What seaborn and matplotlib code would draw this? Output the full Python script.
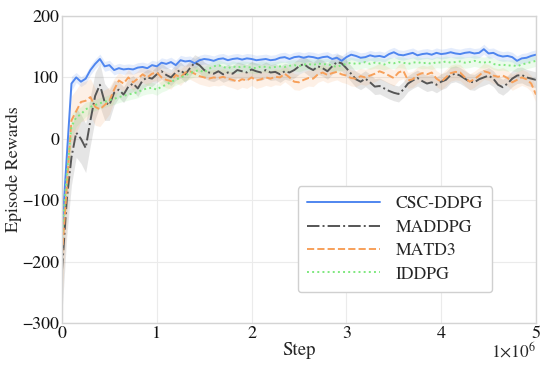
import numpy as np
import pandas as pd
import seaborn as sns
import matplotlib
matplotlib.use("Agg")
import matplotlib.pyplot as plt
from matplotlib.ticker import FuncFormatter

# ---- data (steps in units of 1e6) ----
steps_m = [round(0.05 * i, 2) for i in range(101)]

csc_ddpg = [-152, -30, 90, 100, 93, 98, 112, 122, 130, 118,
            120, 112, 115, 113, 114, 113, 116, 117, 115, 120,
            118, 124, 122, 125, 120, 128, 126, 127, 123, 128,
            130, 129, 127, 130, 131, 128, 130, 131, 129, 131,
            130, 128, 129, 130, 128, 129, 132, 133, 130, 133,
            134, 132, 134, 133, 131, 133, 134, 130, 132, 127,
            133, 137, 135, 132, 133, 136, 134, 135, 133, 138,
            141, 137, 136, 138, 140, 136, 138, 139, 137, 140,
            138, 139, 141, 139, 138, 140, 141, 139, 140, 146,
            139, 140, 136, 134, 135, 133, 127, 131, 132, 135,
            137]

maddpg = [-215, -100, -30, 10, 0, -15, 30, 70, 88, 60,
          55, 75, 80, 72, 85, 90, 82, 95, 100, 98,
          105, 110, 104, 100, 108, 112, 105, 115, 124, 120,
          112, 108, 106, 110, 105, 108, 106, 112, 110, 108,
          113, 110, 108, 112, 108, 109, 105, 110, 108, 112,
          118, 122, 116, 112, 118, 115, 110, 118, 125, 123,
          115, 106, 97, 93, 98, 92, 85, 86, 82, 78,
          75, 73, 80, 90, 95, 99, 94, 90, 92, 88,
          93, 96, 104, 106, 103, 98, 93, 92, 97, 100,
          103, 98, 88, 84, 90, 98, 103, 104, 100, 98,
          96]

matd3 = [-190, -80, 30, 45, 60, 62, 68, 52, 48, 55,
         62, 80, 95, 90, 100, 92, 98, 105, 100, 106,
         108, 100, 96, 94, 104, 100, 108, 110, 106, 102,
         100, 98, 100, 99, 101, 98, 96, 93, 97, 95,
         100, 95, 97, 100, 98, 101, 100, 106, 100, 93,
         92, 96, 99, 98, 105, 108, 104, 107, 109, 105,
         103, 99, 98, 102, 100, 103, 106, 110, 107, 103,
         99, 108, 111, 95, 97, 104, 107, 105, 108, 98,
         93, 100, 107, 109, 108, 100, 93, 97, 103, 110,
         108, 103, 101, 103, 99, 92, 96, 100, 97, 90,
         72]

iddpg = [-160, -60, 20, 35, 40, 48, 52, 55, 58, 60,
         63, 65, 68, 70, 72, 74, 76, 80, 82, 83,
         80, 85, 88, 93, 96, 100, 103, 107, 110, 112,
         108, 114, 118, 120, 117, 115, 118, 116, 118, 117,
         116, 115, 118, 117, 116, 117, 118, 117, 119, 120,
         118, 121, 122, 120, 123, 121, 122, 119, 117, 120,
         122, 124, 122, 123, 125, 122, 124, 123, 121, 124,
         123, 125, 124, 122, 124, 125, 123, 124, 122, 125,
         124, 126, 124, 125, 126, 124, 125, 127, 125, 124,
         126, 122, 120, 121, 119, 120, 118, 121, 123, 125,
         127]

# shaded band half-widths (std), per region of the run
band_csc = [25, 20, 12] + [8] * 98
band_maddpg = [70, 60, 45, 40, 40, 40, 40, 38, 35, 30, 25, 20] + [13] * 89
band_matd3 = [70, 55, 40, 35, 32, 32, 30, 30, 28, 25, 22, 18] + [13] * 89
band_iddpg = [40, 30, 20, 15, 12, 12] + [9] * 95

series = [
    ("CSC-DDPG", csc_ddpg, band_csc, "#4f86ef", "-"),
    ("MADDPG", maddpg, band_maddpg, "#555555", "-."),
    ("MATD3", matd3, band_matd3, "#f7a05a", "--"),
    ("IDDPG", iddpg, band_iddpg, "#7ee87e", ":"),
]

# ---- style ----
sns.set_theme(style="whitegrid")
plt.rcParams["font.family"] = ["TeX Gyre Termes", "Liberation Serif", "DejaVu Serif"]
plt.rcParams["mathtext.fontset"] = "stix"
plt.rcParams["axes.unicode_minus"] = True

fig = plt.figure(figsize=(5.5, 3.69), dpi=100)
ax = fig.add_axes([0.1127, 0.1247, 0.8618, 0.8319])

steps = np.array(steps_m) * 1e6
rows = []
for name, vals, band, color, ls in series:
    for s, v in zip(steps, vals):
        rows.append({"Step": s, "Reward": v, "Algorithm": name})
df = pd.DataFrame(rows)

for name, vals, band, color, ls in series:
    v = np.array(vals, dtype=float)
    b = np.array(band, dtype=float)
    ax.fill_between(steps, v - b, v + b, color=color, alpha=0.15, linewidth=0)

for name, vals, band, color, ls in series:
    sub = df[df["Algorithm"] == name]
    sns.lineplot(data=sub, x="Step", y="Reward", ax=ax, color=color,
                 linestyle=ls, linewidth=1.4, label=name)

ax.set_xlim(0, 5e6)
ax.set_ylim(-300, 200)
ax.set_xticks([0, 1e6, 2e6, 3e6, 4e6, 5e6])
ax.set_yticks([-300, -200, -100, 0, 100, 200])
ax.xaxis.set_major_formatter(FuncFormatter(lambda x, p: f"{x/1e6:.0f}"))
ax.tick_params(axis="both", length=0, labelsize=13, colors="#111111", pad=2)
ax.grid(True, color="#ebebeb", linewidth=0.8)
for sp in ax.spines.values():
    sp.set_color("#d4d4d4")
    sp.set_linewidth(1.0)

ax.set_xlabel("Step", fontsize=13.5, labelpad=0)
ax.set_ylabel("Episode Rewards", fontsize=13)
ax.yaxis.set_label_coords(-0.084, 0.5)
ax.text(1.0, -0.094, r"1$\times$10$^{6}$", transform=ax.transAxes,
        ha="right", va="center", fontsize=12.5)

leg = ax.legend(loc="lower left", bbox_to_anchor=(0.497, 0.1), fontsize=12.7,
                frameon=True, handlelength=4.1, handletextpad=0.9,
                labelspacing=0.4, borderpad=0.55, borderaxespad=0.0, fancybox=True)
leg.get_frame().set_edgecolor("#d0d0d0")
leg.get_frame().set_facecolor("white")
leg.get_frame().set_alpha(1.0)

fig.savefig("out.png", dpi=100)
